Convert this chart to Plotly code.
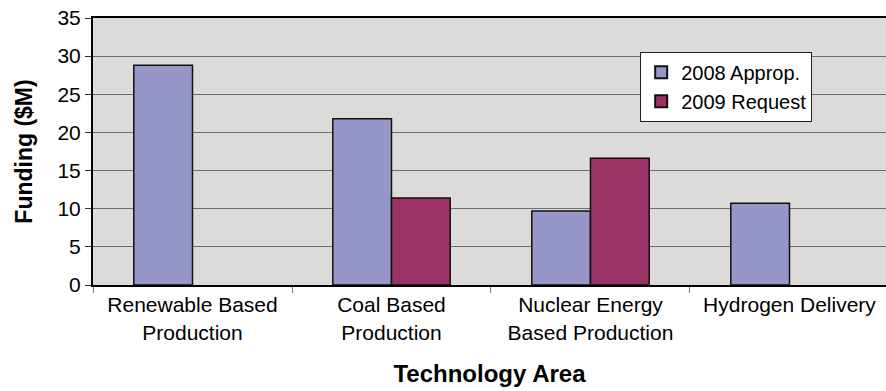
import plotly.graph_objects as go

categories = ["Renewable Based<br>Production", "Coal Based<br>Production",
              "Nuclear Energy<br>Based Production", "Hydrogen Delivery"]
approp_2008 = [28.8, 21.8, 9.7, 10.7]
request_2009 = [None, 11.4, 16.6, None]
series_names = ["2008 Approp.", "2009 Request"]

FONT = "Liberation Sans, Arial, sans-serif"

fig = go.Figure()
fig.add_trace(go.Bar(x=categories, y=approp_2008, name=series_names[0],
                     marker=dict(color="#9696C8", line=dict(color="#111111", width=1.5))))
fig.add_trace(go.Bar(x=categories, y=request_2009, name=series_names[1],
                     marker=dict(color="#993366", line=dict(color="#111111", width=1.5))))

fig.update_layout(
    width=886, height=391,
    margin=dict(l=93, r=0, t=18, b=106),
    paper_bgcolor="white", plot_bgcolor="#DCDBDA",
    barmode="group", bargap=0.41, bargroupgap=0,
    font=dict(family=FONT, size=21, color="black"),
    showlegend=True,
    legend=dict(x=0.69, y=0.874, xanchor="left", yanchor="top",
                bgcolor="white", bordercolor="#222222", borderwidth=1,
                font=dict(size=20), tracegroupgap=0, itemsizing="constant"),
)
fig.update_xaxes(
    type="category", range=[-0.5, 3.485], tickson="boundaries",
    ticks="outside", ticklen=6, tickcolor="#777777",
    showline=True, linecolor="black", linewidth=2, mirror=True,
    showgrid=False, tickfont=dict(size=21),
    title=dict(text="<b>Technology Area</b>", font=dict(size=24), standoff=23),
)
fig.update_yaxes(
    range=[0, 35], dtick=5, ticks="outside", ticklen=6, tickcolor="#333333",
    showline=True, linecolor="black", linewidth=2,
    showgrid=True, gridcolor="#6E6E6E", gridwidth=1, zeroline=False,
    tickfont=dict(size=21),
    title=dict(text="<b>Funding ($M)</b>", font=dict(size=23), standoff=18),
)

fig.write_html("out.html")
